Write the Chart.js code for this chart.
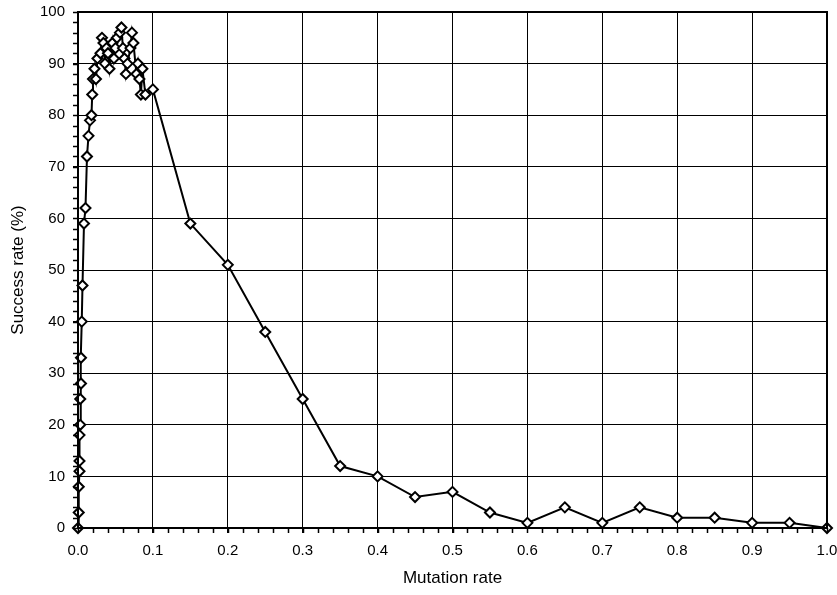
<!DOCTYPE html>
<html>
<head>
<meta charset="utf-8">
<script src="https://cdn.jsdelivr.net/npm/chart.js@4"></script>
<style>
  html, body { margin: 0; padding: 0; background: #fff; }
  canvas { display: block; }
</style>
</head>
<body>
<canvas id="chart" width="837" height="595"></canvas>
<script>
'use strict';

// Mutation rate (x) and success rate in % (y)
const mutationRate = [
    0, 0.001, 0.001, 0.002, 0.002, 0.002, 0.003, 0.003, 0.004, 0.004,
    0.005, 0.006, 0.008, 0.010, 0.012, 0.014, 0.016, 0.018, 0.019, 0.020,
    0.022, 0.024, 0.026, 0.030, 0.032, 0.034, 0.036, 0.038, 0.040, 0.042,
    0.046, 0.048, 0.050, 0.052, 0.056, 0.058, 0.060, 0.062, 0.064, 0.066,
    0.070, 0.072, 0.074, 0.078, 0.080, 0.082, 0.084, 0.086, 0.090, 0.100,
    0.15, 0.20, 0.25, 0.30, 0.35, 0.40, 0.45, 0.50, 0.55, 0.60,
    0.65, 0.70, 0.75, 0.80, 0.85, 0.90, 0.95, 1.00
];
const successRate = [
    0, 3, 8, 11, 13, 18, 20, 25, 28, 33,
    40, 47, 59, 62, 72, 76, 79, 80, 84, 87,
    89, 87, 91, 92, 95, 94, 90, 93, 92, 89,
    94, 91, 93, 95, 96, 97, 93, 91, 88, 90,
    93, 96, 94, 88, 90, 87, 84, 89, 84, 85,
    59, 51, 38, 25, 12, 10, 6, 7, 3, 1,
    4, 1, 4, 2, 2, 1, 1, 0
];
const xTicks = [0, 0.1, 0.2, 0.3, 0.4, 0.5, 0.6, 0.7, 0.8, 0.9, 1.0];
const yTicks = [0, 10, 20, 30, 40, 50, 60, 70, 80, 90, 100];

const tickFont = { family: "'Liberation Sans', Arial, sans-serif", size: 15 };
const titleFont = { family: "'Liberation Sans', Arial, sans-serif", size: 17 };

// frame + minor tick marks like the original spreadsheet chart
const framePlugin = {
    id: 'frame_and_minor_ticks',
    afterDraw: (chart) => {
        const ctx = chart.ctx;
        const { left, right, top, bottom } = chart.chartArea;
        const xs = chart.scales.x;
        const ys = chart.scales.y;
        ctx.save();
        ctx.strokeStyle = '#000';
        ctx.lineWidth = 1.5;
        ctx.beginPath();
        for (let i = 0; i <= 50; i++) {
            const px = Math.round(xs.getPixelForValue(i * 0.02)) + 0.5;
            ctx.moveTo(px, bottom);
            ctx.lineTo(px, bottom + 5);
        }
        for (let i = 0; i <= 50; i++) {
            const py = Math.round(ys.getPixelForValue(i * 2)) + 0.5;
            ctx.moveTo(left, py);
            ctx.lineTo(left - 5, py);
        }
        ctx.stroke();
        ctx.lineWidth = 2;
        ctx.strokeRect(left, top, right - left, bottom - top);
        ctx.restore();
    }
};

// keep the plot area fixed, labels may hang over the edges
function noOverhang(s) {
    s.paddingLeft = 0;
    s.paddingRight = 0;
    s.paddingTop = 0;
    s.paddingBottom = 0;
}

new Chart(document.getElementById('chart'), {
    type: 'scatter',
    data: {
        datasets: [{
            data: mutationRate.map((x, i) => ({ x: x, y: successRate[i] })),
            showLine: true,
            clip: false,
            borderColor: '#000',
            borderWidth: 2,
            pointStyle: 'rectRot',
            pointRadius: 5,
            pointBorderWidth: 2,
            pointBackgroundColor: '#fff',
            pointBorderColor: '#000',
            tension: 0
        }]
    },
    options: {
        responsive: false,
        animation: false,
        events: [],
        layout: { padding: { left: 0, right: 10, top: 12, bottom: 0 } },
        plugins: { legend: { display: false }, tooltip: { enabled: false } },
        scales: {
            x: {
                type: 'linear',
                min: 0,
                max: 1,
                afterBuildTicks: (s) => { s.ticks = xTicks.map(v => ({ value: v })); },
                afterFit: (s) => { s.height = 67; noOverhang(s); },
                ticks: {
                    color: '#000',
                    font: tickFont,
                    padding: 9,
                    maxRotation: 0,
                    callback: (v) => v.toFixed(1)
                },
                grid: { color: '#000', lineWidth: 1, tickLength: 5, tickColor: '#000' },
                border: { color: '#000', width: 2 },
                title: { display: true, text: 'Mutation rate', color: '#000', font: titleFont, padding: { top: 0, bottom: 6 } }
            },
            y: {
                type: 'linear',
                min: 0,
                max: 100,
                afterBuildTicks: (s) => { s.ticks = yTicks.map(v => ({ value: v })); },
                afterFit: (s) => { s.width = 78; noOverhang(s); },
                ticks: { color: '#000', font: tickFont, padding: 8 },
                grid: { color: '#000', lineWidth: 1, tickLength: 5, tickColor: '#000' },
                border: { color: '#000', width: 2 },
                title: { display: true, text: 'Success rate (%)', color: '#000', font: titleFont, padding: { top: 8, bottom: 0 } }
            }
        }
    },
    plugins: [framePlugin]
});
</script>
</body>
</html>
